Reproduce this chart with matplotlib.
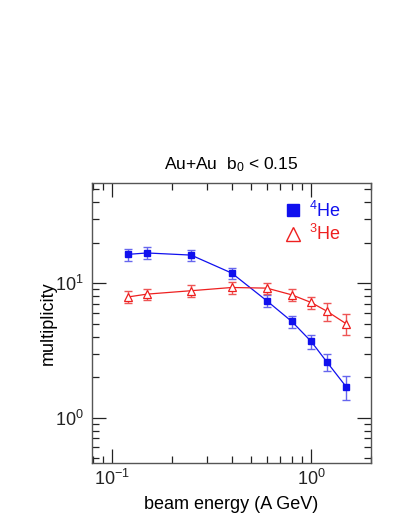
import numpy as np
import matplotlib
matplotlib.use('Agg')
import matplotlib.pyplot as plt
from matplotlib.lines import Line2D
from matplotlib.ticker import LogLocator, NullFormatter

# beam energies (A GeV)
energy = [0.12, 0.15, 0.25, 0.4, 0.6, 0.8, 1.0, 1.2, 1.5]

# 4He multiplicities and relative errors
he4 = [16.4, 16.8, 16.2, 11.9, 7.4, 5.2, 3.7, 2.6, 1.7]
he4_err = [0.1, 0.1, 0.1, 0.1, 0.1, 0.1, 0.12, 0.15, 0.2]

# 3He multiplicities and relative errors
he3 = [7.9, 8.3, 8.8, 9.3, 9.2, 8.2, 7.2, 6.2, 5.0]
he3_err = [0.1, 0.1, 0.1, 0.1, 0.1, 0.1, 0.1, 0.15, 0.18]

blue = '#1010ee'
red = '#ee2020'

plt.rcParams['font.family'] = ['Liberation Sans', 'DejaVu Sans']
plt.rcParams['mathtext.fontset'] = 'custom'
plt.rcParams['mathtext.rm'] = 'Liberation Sans'
plt.rcParams['mathtext.it'] = 'Liberation Sans'

fig = plt.figure(figsize=(4.03, 5.22), dpi=100)
ax = fig.add_axes([92 / 403, 1 - 463 / 522, (371 - 92) / 403, (463 - 183) / 522])

e = np.array(energy)
y4 = np.array(he4)
y3 = np.array(he3)

ax.plot(e, y4, color=blue, lw=0.9, zorder=2)
ax.errorbar(e, y4, yerr=y4 * np.array(he4_err), fmt='none', ecolor='#6666ee',
            elinewidth=1.0, capsize=2.6, capthick=1.0, zorder=2)
ax.plot(e, y4, 's', color=blue, ms=5, zorder=3)

ax.plot(e, y3, color=red, lw=0.9, zorder=2)
ax.errorbar(e, y3, yerr=y3 * np.array(he3_err), fmt='none', ecolor='#ee5555',
            elinewidth=1.0, capsize=2.6, capthick=1.0, zorder=2)
ax.plot(e, y3, '^', mfc='white', mec=red, mew=0.9, ms=5.5, zorder=3)

ax.set_xscale('log')
ax.set_yscale('log')
ax.set_xlim(0.0795, 2.0)
ax.set_ylim(0.46, 55.7)

ax.xaxis.set_major_locator(LogLocator(base=10, numticks=10))
ax.yaxis.set_major_locator(LogLocator(base=10, numticks=10))
ax.xaxis.set_minor_locator(LogLocator(base=10, subs=np.arange(2, 10), numticks=10))
ax.yaxis.set_minor_locator(LogLocator(base=10, subs=np.arange(2, 10), numticks=10))
ax.xaxis.set_minor_formatter(NullFormatter())
ax.yaxis.set_minor_formatter(NullFormatter())

ax.tick_params(which='both', direction='in', top=True, right=True, labelsize=13, colors='#222222')
ax.tick_params(which='major', length=10, width=0.9, pad=4)
ax.tick_params(axis='y', which='major', pad=6)
ax.tick_params(which='minor', length=5, width=0.9)
for s in ax.spines.values():
    s.set_color('#555555')
    s.set_linewidth(1.0)

ax.set_xlabel('beam energy (A GeV)', fontsize=13, labelpad=5)
ax.set_ylabel('multiplicity', fontsize=13)
ax.yaxis.set_label_coords(-0.125, 0.5)
ax.set_title('Au+Au  b$_0$ < 0.15', fontsize=12.5, pad=10)

handles = [Line2D([], [], ls='none', marker='s', color=blue, ms=9),
           Line2D([], [], ls='none', marker='^', mfc='white', mec=red, mew=1.0, ms=10)]
leg = ax.legend(handles, ['$^4$He', '$^3$He'], loc='upper right', frameon=False,
                fontsize=13, handlelength=1.0, handletextpad=0.4, labelspacing=0.2,
                bbox_to_anchor=(0.95, 0.995))
for t, c in zip(leg.get_texts(), [blue, red]):
    t.set_color(c)

fig.savefig('out.png', dpi=100)
